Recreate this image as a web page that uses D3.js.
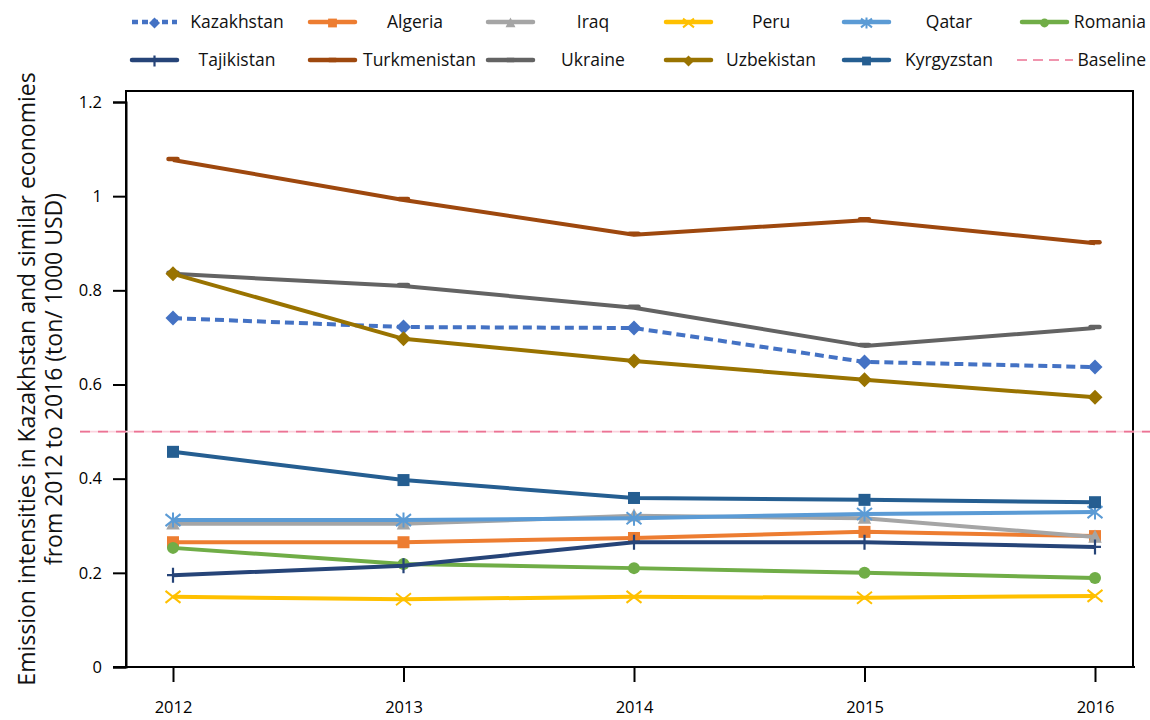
<!DOCTYPE html>
<html><head><meta charset="utf-8">
<script src="https://cdn.jsdelivr.net/npm/d3@7/dist/d3.min.js"></script>
<style>
html,body{margin:0;padding:0;background:#fff;}
svg{display:block;font-family:"Open Sans","Liberation Sans",sans-serif;}
</style></head>
<body>
<svg id="chart" width="1150" height="720"></svg>
<script>
const years = [2012, 2013, 2014, 2015, 2016];
const yTicks = [0, 0.2, 0.4, 0.6, 0.8, 1, 1.2];
const yTickLabels = ["0", "0.2", "0.4", "0.6", "0.8", "1", "1.2"];
const seriesNames = ["Kazakhstan","Algeria","Iraq","Peru","Qatar","Romania","Tajikistan","Turkmenistan","Ukraine","Uzbekistan","Kyrgyzstan"];
const kazakhstan   = [0.741, 0.722, 0.720, 0.648, 0.637];
const algeria      = [0.265, 0.265, 0.274, 0.287, 0.278];
const iraq         = [0.304, 0.304, 0.321, 0.316, 0.276];
const peru         = [0.149, 0.144, 0.149, 0.147, 0.151];
const qatar        = [0.312, 0.312, 0.316, 0.325, 0.329];
const romania      = [0.253, 0.219, 0.210, 0.200, 0.189];
const tajikistan   = [0.195, 0.215, 0.265, 0.265, 0.255];
const turkmenistan = [1.077, 0.992, 0.918, 0.949, 0.900];
const ukraine      = [0.835, 0.809, 0.763, 0.682, 0.720];
const uzbekistan   = [0.835, 0.697, 0.650, 0.610, 0.573];
const kyrgyzstan   = [0.457, 0.397, 0.359, 0.355, 0.350];
const baselineValue = 0.5;
const yTitleLines = ["Emission intensities in Kazakhstan and similar economies", "from 2012 to 2016 (ton/ 1000 USD)"];

const seriesValues = [kazakhstan, algeria, iraq, peru, qatar, romania, tajikistan, turkmenistan, ukraine, uzbekistan, kyrgyzstan];
const styles = {
  Kazakhstan:   {color:"#4472C4", marker:"diamond", dash:"9,5"},
  Algeria:      {color:"#ED7D31", marker:"square"},
  Iraq:         {color:"#A5A5A5", marker:"triangle"},
  Peru:         {color:"#FFC000", marker:"x"},
  Qatar:        {color:"#5B9BD5", marker:"star"},
  Romania:      {color:"#70AD47", marker:"circle"},
  Tajikistan:   {color:"#264478", marker:"plus"},
  Turkmenistan: {color:"#9E480E", marker:"dash"},
  Ukraine:      {color:"#636363", marker:"dash"},
  Uzbekistan:   {color:"#997300", marker:"diamond"},
  Kyrgyzstan:   {color:"#255E91", marker:"square"}
};
const series = seriesNames.map((n,i)=>({name:n, values:seriesValues[i], ...styles[n]}));

const svg = d3.select("#chart");
const L = 126, R = 1133, T = 91, B = 667;
const x = d3.scaleLinear().domain([2012, 2016]).range([173, 1095]);
const y = d3.scaleLinear().domain([0, 1.2]).range([B, 102]);

// frame
svg.append("path").attr("d", `M${L},${B} L${L},${T} L${R},${T} L${R},${B}`)
  .attr("fill","none").attr("stroke","#000").attr("stroke-width",2);

// y axis
const yAxis = svg.append("g").attr("transform",`translate(${L},0)`)
  .call(d3.axisLeft(y).tickValues(yTicks).tickFormat((d,i)=>yTickLabels[i]).tickSize(13).tickPadding(11));
yAxis.select(".domain").attr("stroke-width",2);
yAxis.selectAll(".tick line").attr("stroke-width",2);
yAxis.selectAll("text").attr("font-size",16.5).attr("fill","#000").attr("font-family","'Open Sans',sans-serif");

// x axis
const xAxis = svg.append("g").attr("transform",`translate(0,${B})`)
  .call(d3.axisBottom(x).tickValues(years).tickFormat(d3.format("d")).tickSize(15).tickPadding(19).tickSizeOuter(0));
xAxis.select(".domain").attr("d", `M113,0H1135`).attr("stroke-width",2);
xAxis.selectAll(".tick line").attr("stroke-width",2);
xAxis.selectAll("text").attr("font-size",16.5).attr("fill","#000").attr("font-family","'Open Sans',sans-serif");

// baseline
const by = y(baselineValue);
svg.append("line").attr("x1",80).attr("x2",1150).attr("y1",by).attr("y2",by)
  .attr("stroke","#fbd3de").attr("stroke-width",1.6);
svg.append("line").attr("x1",80).attr("x2",1150).attr("y1",by).attr("y2",by)
  .attr("stroke","#ec7394").attr("stroke-width",1.6).attr("stroke-dasharray","10,8");

// marker drawer
function drawMarker(g, type, color, s){
  switch(type){
    case "diamond": g.append("path").attr("d",`M0,${-s}L${s},0L0,${s}L${-s},0Z`).attr("fill",color); break;
    case "square": g.append("rect").attr("x",-s*0.8).attr("y",-s*0.8).attr("width",s*1.6).attr("height",s*1.6).attr("fill",color); break;
    case "triangle": g.append("path").attr("d",`M0,${-s}L${s*0.9},${s*0.75}L${-s*0.9},${s*0.75}Z`).attr("fill",color); break;
    case "circle": g.append("circle").attr("r",s*0.8).attr("fill",color); break;
    case "x": g.append("path").attr("d",`M${-s},${-s*0.8}L${s},${s*0.8}M${-s},${s*0.8}L${s},${-s*0.8}`).attr("stroke",color).attr("stroke-width",2); break;
    case "star": g.append("path").attr("d",`M${-s},${-s*0.8}L${s},${s*0.8}M${-s},${s*0.8}L${s},${-s*0.8}M0,${-s}L0,${s}`).attr("stroke",color).attr("stroke-width",2); break;
    case "plus": g.append("path").attr("d",`M0,${-s}L0,${s}M${-s*0.8},0L${s*0.8},0`).attr("stroke",color).attr("stroke-width",2.2); break;
    case "dash": g.append("path").attr("d",`M${-s*0.6},${-1}L${s*0.6},${-1}`).attr("stroke",color).attr("stroke-width",4.5).attr("stroke-linecap","round"); break;
  }
}

// lines
const line = d3.line().x((d,i)=>x(years[i])).y(d=>y(d));
const gLines = svg.append("g");
series.forEach(s=>{
  const g = gLines.append("g");
  g.append("path").attr("d", line(s.values)).attr("fill","none").attr("stroke",s.color)
    .attr("stroke-width",4).attr("stroke-linejoin","round")
    .attr("stroke-dasharray", s.dash || null);
  s.values.forEach((v,i)=>{
    const m = g.append("g").attr("transform",`translate(${x(years[i])},${y(v)})`);
    drawMarker(m, s.marker, s.color, 7.5);
  });
});

// legend
const legendItems = series.map(s=>({name:s.name,color:s.color,marker:s.marker,dash:s.dash}));
legendItems.push({name:"Baseline", color:"#ec7394", marker:null, dash:"9,7", baseline:true});
const colStart = 132, colStep = 178, rowY = [22, 60];
const lg = svg.append("g");
legendItems.forEach((it,i)=>{
  const col = i%6, row = Math.floor(i/6);
  const x0 = colStart + col*colStep - (it.baseline?5:0), x1 = colStart + col*colStep + 45 + (it.baseline?6:0);
  const cy = rowY[row];
  const g = lg.append("g");
  g.append("line").attr("x1",x0).attr("x2",x1).attr("y1",cy).attr("y2",cy)
    .attr("stroke",it.color).attr("stroke-width",it.baseline?1.4:4.5)
    .attr("stroke-linecap", it.baseline||it.dash ? "butt" : "round")
    .attr("stroke-dasharray", it.baseline ? "10,6" : (it.dash ? "6,4" : null));
  if(it.marker){
    const m = g.append("g").attr("transform",`translate(${(x0+x1)/2},${cy+1})`);
    drawMarker(m, it.marker, it.color, 5.5);
  }
  const t = g.append("text").attr("y",cy+6).attr("font-size",17.5).attr("fill","#111").text(it.name);
  const w = t.node().getComputedTextLength();
  let start = x1 + 60 - w/2;
  if(start < x1 + 8) start = x1 + 8;
  if(start + w > 1146) start = 1146 - w;
  if(start < x1 + 1) start = x1 + 1;
  t.attr("x", start);
});

// y title
const yt = svg.append("text").attr("transform","translate(0,379) rotate(-90)")
  .attr("text-anchor","middle").attr("font-size",23).attr("fill","#111");
yTitleLines.forEach((l,i)=>{
  yt.append("tspan").attr("x",0).attr("y", 35 + i*27).text(l);
});
</script>
</body></html>
